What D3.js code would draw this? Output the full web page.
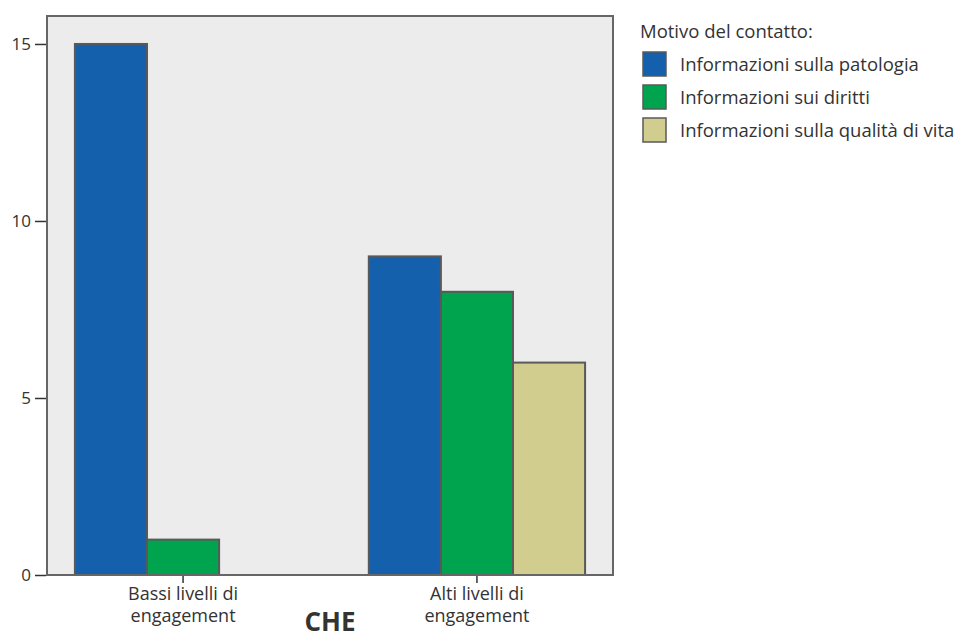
<!DOCTYPE html>
<html lang="it">
<head>
<meta charset="utf-8" />
<script src="https://cdn.jsdelivr.net/npm/d3@7"></script>
<style>
  body { margin: 0; background: #fff; }
  text { font-family: "Open Sans", "Noto Sans", sans-serif; fill: #333; }
</style>
</head>
<body>
<svg id="chart" width="957" height="640"></svg>
<script>
// data
const categories = ["Bassi livelli di engagement", "Alti livelli di engagement"];
const categoryLines = [["Bassi livelli di", "engagement"], ["Alti livelli di", "engagement"]];
const seriesNames = ["Informazioni sulla patologia", "Informazioni sui diritti", "Informazioni sulla qualità di vita"];
const patologia = [15, 9];
const diritti = [1, 8];
const qualita = [0, 6];
const yTicks = [0, 5, 10, 15];
const colors = ["#1560ad", "#00a44e", "#d1cd8f"];

const seriesValues = [patologia, diritti, qualita];
const data = [];
categories.forEach((c, ci) => {
  seriesNames.forEach((s, si) => {
    data.push({ cat: c, series: s, value: seriesValues[si][ci] });
  });
});

const svg = d3.select("#chart");
const plot = { left: 47, right: 613, top: 16, bottom: 575 };

const x = d3.scaleBand()
  .domain(categories)
  .range([plot.left, plot.right])
  .paddingInner(0.264)
  .paddingOuter(0.095);

const xSub = d3.scaleBand()
  .domain(seriesNames)
  .range([0, x.bandwidth()]);

const y = d3.scaleLinear()
  .domain([0, 15.79])
  .range([plot.bottom, plot.top]);

const color = d3.scaleOrdinal().domain(seriesNames).range(colors);

// background
svg.append("rect")
  .attr("x", plot.left)
  .attr("y", plot.top)
  .attr("width", plot.right - plot.left)
  .attr("height", plot.bottom - plot.top)
  .attr("fill", "#ececec");

// bars
svg.append("g")
  .selectAll("rect")
  .data(data.filter(d => d.value > 0))
  .join("rect")
  .attr("x", d => x(d.cat) + xSub(d.series))
  .attr("y", d => y(d.value))
  .attr("width", xSub.bandwidth())
  .attr("height", d => y(0) - y(d.value))
  .attr("fill", d => color(d.series))
  .attr("stroke", "#595959")
  .attr("stroke-width", 2);

// frame
svg.append("rect")
  .attr("x", plot.left)
  .attr("y", plot.top)
  .attr("width", plot.right - plot.left)
  .attr("height", plot.bottom - plot.top)
  .attr("fill", "none")
  .attr("stroke", "#666")
  .attr("stroke-width", 2);

// y axis
const yAxis = svg.append("g")
  .attr("transform", `translate(${plot.left - 1},0)`)
  .call(d3.axisLeft(y).tickValues(yTicks).tickSize(11).tickPadding(4).tickFormat(d3.format("d")));
yAxis.select(".domain").remove();
yAxis.selectAll("line").attr("stroke", "#333").attr("stroke-width", 1.5);
yAxis.selectAll("text")
  .style("font-family", "Open Sans, sans-serif")
  .style("font-size", "17px")
  .attr("fill", "#333");

// x axis
const xAxis = svg.append("g")
  .attr("transform", `translate(0,${plot.bottom + 1})`)
  .call(d3.axisBottom(x).tickSize(7).tickFormat(""));
xAxis.select(".domain").remove();
xAxis.selectAll("line").attr("stroke", "#333").attr("stroke-width", 1.5);

xAxis.selectAll(".tick")
  .append("text")
  .attr("fill", "#333")
  .attr("text-anchor", "middle")
  .style("font-size", "18px")
  .style("font-family", "Open Sans, sans-serif")
  .selectAll("tspan")
  .data(d => categoryLines[categories.indexOf(d)])
  .join("tspan")
  .attr("x", 0)
  .attr("y", (d, i) => 24 + i * 22)
  .text(d => d);

// x title
svg.append("text")
  .attr("x", (plot.left + plot.right) / 2)
  .attr("y", 631)
  .attr("text-anchor", "middle")
  .style("font-size", "26px")
  .style("font-weight", "700")
  .attr("fill", "#222")
  .text("CHE");

// legend
const legend = svg.append("g").attr("transform", "translate(640,0)");
legend.append("text")
  .attr("x", 0)
  .attr("y", 38)
  .style("font-size", "18.5px")
  .text("Motivo del contatto:");

const items = legend.selectAll(".legend-item")
  .data(seriesNames)
  .join("g")
  .attr("class", "legend-item")
  .attr("transform", (d, i) => `translate(0,${52 + i * 33})`);

items.append("rect")
  .attr("x", 3)
  .attr("y", 0)
  .attr("width", 23)
  .attr("height", 24)
  .attr("fill", d => color(d))
  .attr("stroke", "#595959")
  .attr("stroke-width", 1.5);

items.append("text")
  .attr("x", 40)
  .attr("y", 19)
  .style("font-size", "18.5px")
  .text(d => d);
</script>
</body>
</html>
